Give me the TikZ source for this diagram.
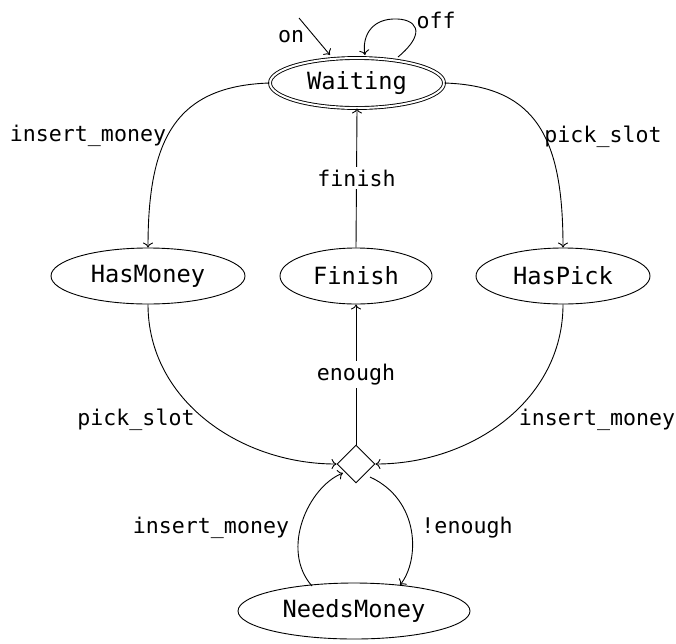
\documentclass[tikz,border=0pt]{standalone}
\usepackage{fontspec}
\setmonofont{DejaVu Sans Mono}
\usetikzlibrary{shapes.geometric,arrows.meta}
\tikzset{
  state/.style={draw, ellipse, inner sep=0pt, line width=0.9pt, font=\ttfamily\fontsize{23.7}{28}\selectfont},
  lbl/.style={font=\ttfamily\fontsize{21.6}{26}\selectfont, inner sep=1pt},
  lblw/.style={lbl, fill=white, inner sep=3pt},
  tr/.style={line width=0.9pt, -{To[length=5pt,width=10pt]}}
}
\begin{document}
\begin{tikzpicture}[x=1pt,y=-1pt]
\useasboundingbox (0,0) rectangle (676,643);
\node[state, double, double distance=2pt, minimum width=174, minimum height=50] (W) at (357,83) {Waiting};
\node[state, minimum width=194, minimum height=56] (HM) at (148,276) {HasMoney};
\node[state, minimum width=152, minimum height=56] (F) at (356,276) {Finish};
\node[state, minimum width=174, minimum height=56] (HP) at (563,276) {HasPick};
\node[draw, diamond, line width=0.9pt, minimum width=38, minimum height=38, inner sep=0pt] (D) at (356,464) {};
\node[state, minimum width=232, minimum height=56] (N) at (354,611) {NeedsMoney};
% initial
\coordinate (i0) at (299,18);
\draw[tr] (i0) -- (330,55);
\node[lbl] (lon) at (291,37) {on};
% loop
\draw[tr] (398,57) .. controls (428,32) and (416,18) .. (393,19) .. controls (370,20) and (362,38) .. (365,55);
\node[lbl] (loff) at (436,20) {off};
% Waiting -> HasMoney
\draw[tr] (W.west) .. controls (175,86) and (148,140) .. (HM.north);
\node[lbl] (l1) at (88,136) {insert\_money};
% Waiting -> HasPick
\draw[tr] (W.east) .. controls (538,86) and (563,140) .. (HP.north);
\node[lbl] (l2) at (603,137) {pick\_slot};
% Finish -> Waiting
\draw[tr] (F.north) -- node[lblw] {finish} (W.south);
% Diamond -> Finish
\draw[tr] (D.north) -- node[lblw] {enough} (F.south);
% HasMoney -> D
\draw[tr] (HM.south) .. controls (148,400) and (240,464) .. (D.west);
\node[lbl] (l3) at (136,420) {pick\_slot};
% HasPick -> D
\draw[tr] (HP.south) .. controls (563,400) and (472,464) .. (D.east);
\node[lbl] (l4) at (597,420) {insert\_money};
% NeedsMoney -> D
\draw[tr] (312,586) .. controls (280,550) and (308,487) .. (343,473);
\node[lbl] (l5) at (211,528) {insert\_money};
% D -> NeedsMoney
\draw[tr] (370,477) .. controls (420,500) and (420,560) .. (400,585);
\node[lbl] (l6) at (467,528) {!enough};
\end{tikzpicture}
\end{document}
